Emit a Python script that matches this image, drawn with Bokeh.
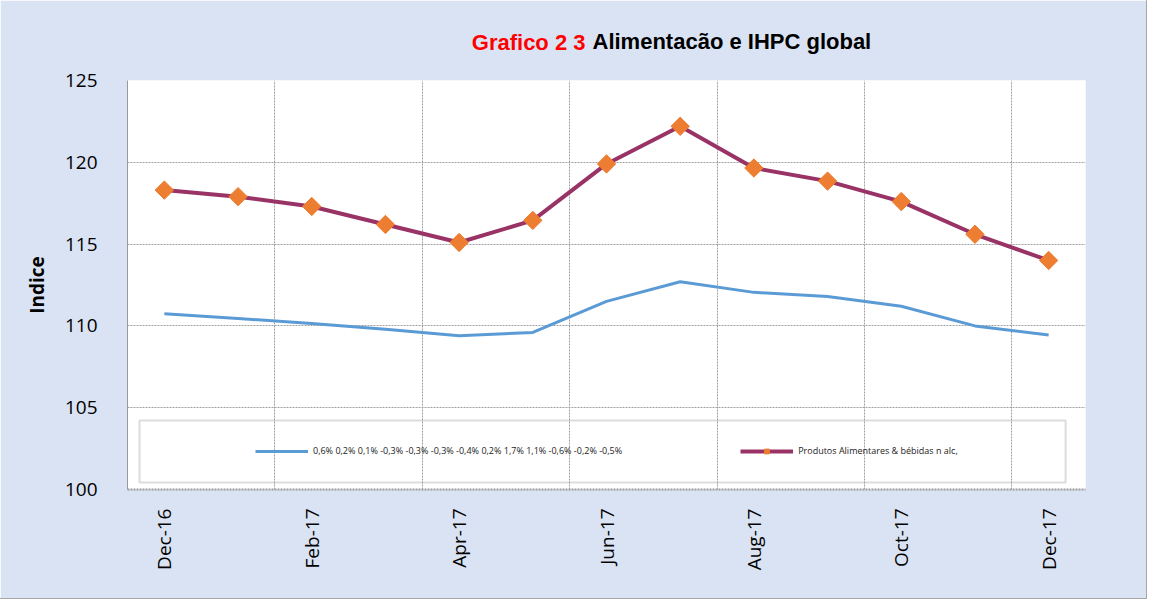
from bokeh.plotting import figure
from bokeh.models import FixedTicker, Legend, LegendItem, Label, BoxAnnotation
from bokeh.embed import file_html
from bokeh.resources import INLINE
import math

months = ["Dec-16", "Jan-17", "Feb-17", "Mar-17", "Apr-17", "May-17", "Jun-17",
          "Jul-17", "Aug-17", "Sep-17", "Oct-17", "Nov-17", "Dec-17"]
ihpc = [110.75, 110.45, 110.15, 109.8, 109.4, 109.6, 111.5, 112.7, 112.05, 111.8, 111.2, 110.0, 109.45]
alim = [118.3, 117.9, 117.3, 116.2, 115.1, 116.45, 119.9, 122.2, 119.65, 118.85, 117.6, 115.6, 114.0]
ihpc_name = "0,6% 0,2% 0,1% -0,3% -0,3% -0,3% -0,4% 0,2% 1,7% 1,1% -0,6% -0,2% -0,5%"
alim_name = "Produtos Alimentares & bébidas n alc,"
y_ticks = [100, 105, 110, 115, 120, 125]

xs = list(range(len(months)))

p = figure(width=1146, height=598, output_backend="svg", toolbar_location=None,
           x_range=(-0.5, len(months) - 0.5), y_range=(100, 125))
p.min_border_left = 127
p.min_border_right = 61
p.min_border_top = 80
p.min_border_bottom = 109
p.background_fill_color = "white"
p.border_fill_color = "#DAE3F3"
p.outline_line_color = None

# axes
p.xaxis.ticker = FixedTicker(ticks=xs[::2])
p.xaxis.major_label_overrides = {i: months[i] for i in xs}
p.xaxis.major_label_orientation = math.pi / 2
p.xaxis.major_label_text_font = "Open Sans"
p.xaxis.major_label_text_font_size = "19px"
p.xaxis.major_label_text_color = "black"
p.xaxis.major_label_standoff = 13
p.xaxis.major_tick_line_color = None
p.xaxis.minor_tick_line_color = None
p.xaxis.axis_line_color = "#999999"
p.xaxis.axis_line_width = 2
p.xaxis.axis_line_dash = "2 1"

p.yaxis.ticker = FixedTicker(ticks=y_ticks)
p.yaxis.major_label_text_font = "Open Sans"
p.yaxis.major_label_text_font_size = "19px"
p.yaxis.major_label_text_color = "black"
p.yaxis.major_label_standoff = 24
p.yaxis.major_tick_line_color = None
p.yaxis.minor_tick_line_color = None
p.yaxis.axis_line_color = "#999999"
p.yaxis.axis_line_width = 1
p.yaxis.axis_label = "Indice"
p.yaxis.axis_label_text_font = "Open Sans"
p.yaxis.axis_label_text_font_style = "bold"
p.yaxis.axis_label_text_font_size = "19px"
p.yaxis.axis_label_text_color = "black"
p.yaxis.axis_label_standoff = 12

# grids
p.xgrid.ticker = FixedTicker(ticks=[i + 1.5 for i in xs[::2]][:-1])
p.xgrid.grid_line_color = "#a0a0a0"
p.xgrid.grid_line_dash = "2 1"
p.ygrid.ticker = FixedTicker(ticks=y_ticks)
p.ygrid.grid_line_color = "#a0a0a0"
p.ygrid.grid_line_dash = "2 1"

# legend frame
p.add_layout(BoxAnnotation(left=-0.337, right=12.23, bottom=100.43, top=104.22,
                           fill_alpha=0, line_color="#8c8c8c", line_width=2))

r1 = p.line(xs, ihpc, line_color="#5B9BD5", line_width=3)
r2 = p.line(xs, alim, line_color="#993366", line_width=4)
r3 = p.scatter(xs, alim, marker="square", angle=math.pi / 4, size=13,
               fill_color="#ED7D31", line_color="#ED7D31")

legend = Legend(items=[LegendItem(label=ihpc_name, renderers=[r1]),
                       LegendItem(label=alim_name, renderers=[r2, r3])],
                orientation="horizontal", location=(128, 32),
                padding=0, margin=0, spacing=118,
                glyph_width=53, glyph_height=12, label_height=12,
                label_standoff=5, label_text_font="Open Sans",
                label_text_font_size="9px", label_text_color="#222222",
                border_line_alpha=0, background_fill_alpha=0)
p.add_layout(legend, "center")

# title (two colours)
p.add_layout(Label(x=458, y=26, x_units="screen", y_units="screen",
                   text="Grafico 2 3", text_align="right",
                   text_font="Liberation Sans", text_font_style="bold",
                   text_font_size="22px", text_color="#FF0000"), "above")
p.add_layout(Label(x=465, y=2, x_units="screen", y_units="screen",
                   text="Alimentacão e IHPC global", text_align="left",
                   text_font="Liberation Sans", text_font_style="bold",
                   text_font_size="22px", text_color="black"), "above")

p.styles = {"outline": "1px solid #a6a6a6"}

open("out.html", "w").write(file_html(p, INLINE))
